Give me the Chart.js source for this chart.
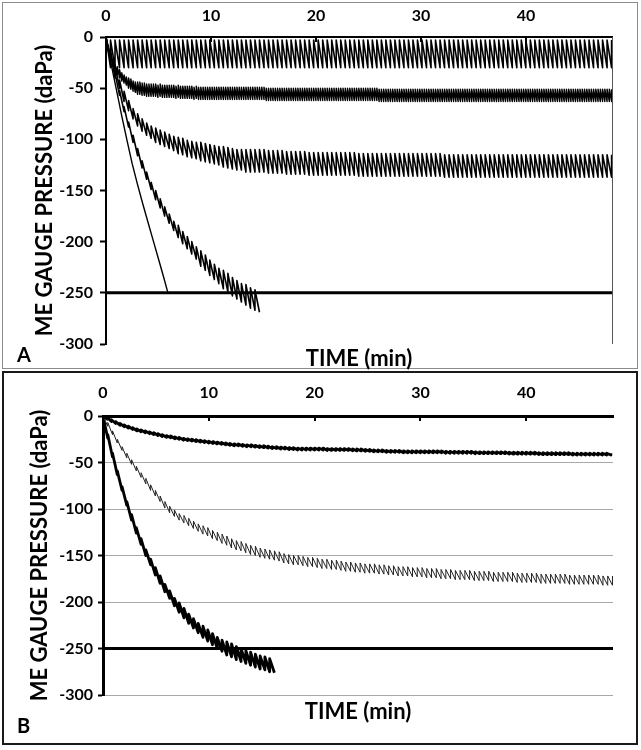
<!DOCTYPE html>
<html>
<head>
<meta charset="utf-8">
<title>ME gauge pressure</title>
<script src="https://cdn.jsdelivr.net/npm/chart.js@4.4.1/dist/chart.umd.min.js"></script>
<style>
  body { margin: 0; background: #fff; font-family: Lato, sans-serif; }
  .panel { position: absolute; box-sizing: border-box; }
  #boxA { left: 2px; top: 2px; width: 636px; height: 367px; border: 1px solid #8c8c8c; }
  #boxB { left: 2px; top: 371px; width: 636px; height: 374px; border: 2px solid #1a1a1a; }
  canvas { position: absolute; left: 0; }
  #chartA { top: 0; }
  #chartB { top: 372px; }
  .tag { position: absolute; left: 17px; font: bold 20px Lato; line-height: 1; }
</style>
</head>
<body>
<div class="panel" id="boxA"></div>
<div class="panel" id="boxB"></div>
<canvas id="chartA" width="641" height="372"></canvas>
<canvas id="chartB" width="641" height="376"></canvas>
<div class="tag" style="top:344px">A</div>
<div class="tag" style="top:715px">B</div>
<script>
// axes: time (min) on top, pressure (daPa) on the left
var xTicks = [0, 10, 20, 30, 40];
var xTickLabels = ['0', '10', '20', '30', '40'];
var yTicks = [-300, -250, -200, -150, -100, -50, 0];
var yTickLabels = ['-300', '-250', '-200', '-150', '-100', '-50', '0'];
var timeEnd = 48.2;
var limitLevel = -250;

// interval between tubal openings (min), one value per trace
var stepA = 0.43;
var stepAMid = 0.215;
var stepB1 = 0.4;
var stepB2 = 0.45;
var stepB3 = 0.45;

// A, top trace: pressure just before / just after each opening
var aTopLow = [
  -30,-30,-30,-30,-30,-30,-30,-30,-30,-30,-30,-30,-30,-30,
  -30,-30,-30,-30,-30,-30,-30,-30,-30,-30,-30,-30,-30,-30,
  -30,-30,-30,-30,-30,-30,-30,-30,-30,-30,-30,-30,-30,-30,
  -30,-30,-30,-30,-30,-30,-30,-30,-30,-30,-30,-30,-30,-30,
  -30,-30,-30,-30,-30,-30,-30,-30,-30,-30,-30,-30,-30,-30,
  -30,-30,-30,-30,-30,-30,-30,-30,-30,-30,-30,-30,-30,-30,
  -30,-30,-30,-30,-30,-30,-30,-30,-30,-30,-30,-30,-30,-30,
  -30,-30,-30,-30,-30,-30,-30,-30,-30,-30,-30,-30,-30,-30
];
var aTopHigh = [
  -3,-3,-3,-3,-3,-3,-3,-3,-3,-3,-3,-3,-3,-3,
  -3,-3,-3,-3,-3,-3,-3,-3,-3,-3,-3,-3,-3,-3,
  -3,-3,-3,-3,-3,-3,-3,-3,-3,-3,-3,-3,-3,-3,
  -3,-3,-3,-3,-3,-3,-3,-3,-3,-3,-3,-3,-3,-3,
  -3,-3,-3,-3,-3,-3,-3,-3,-3,-3,-3,-3,-3,-3,
  -3,-3,-3,-3,-3,-3,-3,-3,-3,-3,-3,-3,-3,-3,
  -3,-3,-3,-3,-3,-3,-3,-3,-3,-3,-3,-3,-3,-3,
  -3,-3,-3,-3,-3,-3,-3,-3,-3,-3,-3,-3,-3,-3
];

// A, dense band near -57
var aMidLow = [
  -14,-22,-28,-33,-37,-40,-43,-45,-47,-50,-51,-53,-54,-56,-56,-57,-57,-58,-58,
  -58,-58,-58,-59,-58,-59,-59,-59,-59,
  -59,-59,-60,-59,-60,-60,-60,-60,-60,-60,-61,-60,-61,-61,-61,-61,-61,-61,
  -61,-61,-61,-61,-61,-61,-61,-61,-61,-61,-61,-61,
  -61,-61,-61,-61,-61,-61,-61,-61,-61,-61,-61,-61,
  -62,-62,-62,-62,-62,-62,-62,-62,-62,-62,
  -62,-62,-62,-62,-62,-62,-62,-62,-62,-62,
  -62,-62,-62,-62,-62,-62,-62,-62,-62,-62,
  -62,-62,-62,-62,-62,-62,-62,-62,-62,-62,
  -62,-62,-62,-62,-62,-62,-62,-62,-62,-62,
  -63,-63,-63,-63,-63,-63,-63,-63,-63,-63,-63,-63,-63,
  -63,-63,-63,-63,-63,-63,-63,-63,-63,-63,-63,-63,-63,
  -63,-63,-63,-63,-63,-63,-63,-63,-63,-63,-63,-63,-63,
  -63,-63,-63,-63,-63,-63,-63,-63,-63,-63,-63,-63,-63,
  -63,-63,-63,-63,-63,-63,-63,-63,-63,-63,-63,-63,-63,
  -63,-63,-63,-63,-63,-63,-63,-63,-63,-63,-63,-63,-63,
  -63,-63,-63,-63,-63,-63,-63,-63,-63,-63,-63,-63,-63,
  -63,-63,-63,-63,-63,-63,-63,-63,-63,-63,-63,-63,-63
];
var aMidHigh = [
  -8,-16,-22,-27,-29,-32,-35,-37,-39,-40,-41,-43,-44,-44,-44,-45,-45,-46,-46,
  -46,-46,-46,-47,-46,-47,-47,-47,-47,
  -47,-47,-48,-47,-48,-48,-48,-48,-48,-48,-49,-48,-49,-49,-49,-49,-49,-49,
  -49,-49,-49,-49,-49,-49,-49,-49,-49,-49,-49,-49,
  -49,-49,-49,-49,-49,-49,-49,-49,-49,-49,-49,-49,
  -50,-50,-50,-50,-50,-50,-50,-50,-50,-50,
  -50,-50,-50,-50,-50,-50,-50,-50,-50,-50,
  -50,-50,-50,-50,-50,-50,-50,-50,-50,-50,
  -50,-50,-50,-50,-50,-50,-50,-50,-50,-50,
  -50,-50,-50,-50,-50,-50,-50,-50,-50,-50,
  -51,-51,-51,-51,-51,-51,-51,-51,-51,-51,-51,-51,-51,
  -51,-51,-51,-51,-51,-51,-51,-51,-51,-51,-51,-51,-51,
  -51,-51,-51,-51,-51,-51,-51,-51,-51,-51,-51,-51,-51,
  -51,-51,-51,-51,-51,-51,-51,-51,-51,-51,-51,-51,-51,
  -51,-51,-51,-51,-51,-51,-51,-51,-51,-51,-51,-51,-51,
  -51,-51,-51,-51,-51,-51,-51,-51,-51,-51,-51,-51,-51,
  -51,-51,-51,-51,-51,-51,-51,-51,-51,-51,-51,-51,-51,
  -51,-51,-51,-51,-51,-51,-51,-51,-51,-51,-51,-51,-51
];

// A, band near -126
var aLowLow = [
  -21,-36,-50,-63,-72,-80,-87,-92,-96,-99,-103,-105,-107,-109,-111,
  -114,-115,-117,-118,-119,-121,-122,-123,-124,-125,-127,-128,-129,-130,-130,
  -132,-132,-132,-132,-132,-133,-133,-133,-133,
  -134,-134,-134,-134,-134,-135,-135,-135,-135,-135,-135,-135,-135,-135,-135,-135,
  -136,-136,-136,-136,-136,-136,-136,-136,-136,-136,
  -136,-136,-136,-136,-136,-136,-136,-136,-136,
  -137,-137,-137,-137,-137,-137,-137,-137,-137,-137,-137,-137,-137,
  -137,-137,-137,-137,-137,-137,-137,-137,-137,-137,-137,-137,-137,
  -137,-137,-137,-137,-137,-137,-137,-137,-137,-137,-137,-137
];
var aLowHigh = [
  -13,-28,-42,-53,-62,-70,-75,-80,-84,-87,-89,-91,-93,-95,-97,
  -98,-99,-101,-102,-103,-103,-104,-105,-106,-107,-107,-108,-109,-110,-110,
  -110,-110,-110,-110,-110,-111,-111,-111,-111,
  -112,-112,-112,-112,-112,-113,-113,-113,-113,-113,-113,-113,-113,-113,-113,-113,
  -114,-114,-114,-114,-114,-114,-114,-114,-114,-114,
  -114,-114,-114,-114,-114,-114,-114,-114,-114,
  -115,-115,-115,-115,-115,-115,-115,-115,-115,-115,-115,-115,-115,
  -115,-115,-115,-115,-115,-115,-115,-115,-115,-115,-115,-115,-115,
  -115,-115,-115,-115,-115,-115,-115,-115,-115,-115,-115,-115
];

// A, sawtooth that runs past -250
var aDeepLow = [
  -22,-40,-57,-73,-88,-103,-116,-128,-139,-149,-159,-167,-175,-182,-189,-196,-202,
  -207,-212,-217,-224,-228,-233,-237,-241,-246,-249,-253,-256,-259,-262,-265,-267,-269
];
var aDeepHigh = [
  -17,-35,-52,-68,-83,-96,-109,-121,-132,-142,-150,-158,-166,-173,-180,-184,-190,
  -195,-200,-205,-209,-213,-218,-222,-226,-228,-231,-235,-238,-241,-242,-245,-247
];

// A, smooth fast drop
var aFastT = [0, 0.5, 1, 1.5, 2, 2.5, 3, 3.5, 4, 4.5, 5, 5.5, 5.9];
var aFastV = [0, -27, -52, -77, -101, -124, -144, -163, -181, -199, -217, -235, -250];

// B, shallow trace
var bTopLow = [
  -3.5,-6,-8,-10,-11.5,-13,-14.5,-16,-17,-18,-19,-20,-21,-22,-23,
  -23.5,-24.5,-25,-26,-26.5,-27,-27.5,-28,-28.5,-29,-29.5,-30,-30.5,-31,-31.5,
  -32,-32,-32.5,-33,-33,-33.5,-34,-34,-34.5,-35,-35,-35.5,-35.5,-36,-36,
  -36.5,-36.5,-36.5,-36.5,-36.5,-36.5,-36.5,-37,-37,-37,-37,-37,-37,
  -37.5,-37.5,-37.5,-38,-38,-38.5,-38.5,-38.5,-39,-39,-39,-39,
  -39.5,-39.5,-39.5,-39.5,-39.5,-39.5,-39.5,-39.5,-39.5,-39.5,
  -40,-40,-40,-40,-40,-40,-40,-40.5,-40.5,-40.5,-40.5,-40.5,-40.5,-40.5,-40.5,
  -41,-41,-41,-41,-41,-41,-41,-41.5,-41.5,-41.5,-41.5,-41.5,-41.5,-41.5,-41.5,
  -42,-42,-42,-42,-42,-42,-42,-42,-42,-42
];
var bTopHigh = [
  -1.5,-4,-6,-8,-9.5,-11,-12.5,-14,-15,-16,-17,-18,-19,-20,-21,
  -21.5,-22.5,-23,-24,-24.5,-25,-25.5,-26,-26.5,-27,-27.5,-28,-28.5,-29,-29.5,
  -30,-30,-30.5,-31,-31,-31.5,-32,-32,-32.5,-33,-33,-33.5,-33.5,-34,-34,
  -34.5,-34.5,-34.5,-34.5,-34.5,-34.5,-34.5,-35,-35,-35,-35,-35,-35,
  -35.5,-35.5,-35.5,-36,-36,-36.5,-36.5,-36.5,-37,-37,-37,-37,
  -37.5,-37.5,-37.5,-37.5,-37.5,-37.5,-37.5,-37.5,-37.5,-37.5,
  -38,-38,-38,-38,-38,-38,-38,-38.5,-38.5,-38.5,-38.5,-38.5,-38.5,-38.5,-38.5,
  -39,-39,-39,-39,-39,-39,-39,-39.5,-39.5,-39.5,-39.5,-39.5,-39.5,-39.5,-39.5,
  -40,-40,-40,-40,-40,-40,-40,-40,-40,-40
];

// B, thin trace levelling near -176
var bMidLow = [
  -11,-20,-29,-37,-45,-52,-59,-66,-73,-80,-86,-92,
  -99,-104,-108,-112,-115,-118,-121,-124,-127,-129,-132,-134,
  -137,-139,-142,-144,-145,-147,-149,-150,-152,-153,-154,-155,
  -156,-158,-159,-160,-160,-161,-162,-162,-163,-164,-164,-165,
  -165,-166,-167,-167,-168,-168,-169,-169,-169,-170,-170,-171,
  -171,-172,-172,-172,-173,-173,-173,-174,-174,-174,-175,-175,-175,
  -176,-176,-176,-176,-177,-177,-177,-177,-178,-178,-178,-178,-178,
  -179,-179,-179,-179,-179,-180,-180,-180,-180,-180,-180,
  -181,-181,-181,-181,-181,-181,-181,-182,-182,-182
];
var bMidHigh = [
  -7,-16,-25,-33,-40,-47,-54,-61,-67,-74,-80,-86,
  -92,-97,-101,-105,-107,-110,-113,-116,-118,-120,-123,-125,
  -127,-129,-132,-134,-135,-137,-139,-140,-142,-143,-144,-145,
  -146,-148,-149,-150,-150,-151,-152,-152,-153,-154,-154,-155,
  -155,-156,-157,-157,-158,-158,-159,-159,-159,-160,-160,-161,
  -161,-162,-162,-162,-163,-163,-163,-164,-164,-164,-165,-165,-165,
  -166,-166,-166,-166,-167,-167,-167,-167,-168,-168,-168,-168,-168,
  -169,-169,-169,-169,-169,-170,-170,-170,-170,-170,-170,
  -171,-171,-171,-171,-171,-171,-171,-172,-172,-172
];

// B, thick trace that runs past -250
var bDeepLow = [
  -24,-44,-63,-80,-96,-112,-126,-138,-150,-160,-171,-180,-189,-196,-204,-211,-217,-223,
  -228,-233,-238,-242,-246,-250,-253,-257,-259,-262,-264,-266,-268,-270,-272,-273,-275,-276
];
var bDeepHigh = [
  -20,-40,-59,-76,-92,-106,-120,-132,-144,-154,-163,-172,-181,-188,-196,-201,-207,-213,
  -218,-223,-226,-230,-234,-238,-241,-243,-245,-248,-250,-252,-254,-256,-258,-259,-261
];

// each opening: drop to the low value, then jump up to the high value
function sawPoints(low, high, step) {
  var pts = [{ x: 0, y: 0 }];
  low.forEach(function (v, i) {
    var t = (i + 1) * step;
    pts.push({ x: t, y: v });
    if (i < high.length) pts.push({ x: t, y: high[i] });
  });
  return pts;
}

function linePoints(t, v) {
  return t.map(function (x, i) { return { x: x, y: v[i] }; });
}

function series(data, width, color) {
  return {
    data: data,
    xAxisID: 'x',
    yAxisID: 'y',
    borderColor: color || '#000',
    borderWidth: width,
    pointRadius: 0,
    tension: 0,
    fill: false,
    borderJoinStyle: 'round'
  };
}

var limitPoints = linePoints([0, timeEnd], [limitLevel, limitLevel]);

// small tick marks pointing down from the time axis, plus optional right frame
var innerTicks = {
  id: 'innerTicks',
  afterDatasetsDraw: function (chart, args, opts) {
    var ctx = chart.ctx;
    var area = chart.chartArea;
    var x = chart.scales.x;
    ctx.save();
    ctx.strokeStyle = '#000';
    ctx.lineWidth = 2;
    xTicks.forEach(function (v) {
      if (v === 0) return;
      var px = Math.round(x.getPixelForValue(v));
      ctx.beginPath();
      ctx.moveTo(px, area.top);
      ctx.lineTo(px, area.top + opts.length);
      ctx.stroke();
    });
    if (opts.frame) {
      ctx.strokeStyle = opts.frame;
      ctx.lineWidth = 1;
      ctx.beginPath();
      ctx.moveTo(Math.round(area.right) + 0.5, area.top);
      ctx.lineTo(Math.round(area.right) + 0.5, area.bottom);
      ctx.stroke();
    }
    ctx.restore();
  }
};

Chart.defaults.font.family = 'Lato';
Chart.defaults.font.size = 16;
Chart.defaults.font.weight = 'bold';
Chart.defaults.color = '#000';

function panelOptions(g) {
  return {
    responsive: false,
    animation: false,
    devicePixelRatio: 1,
    layout: { padding: { left: 0, right: g.right, top: 0, bottom: 0 } },
    plugins: {
      legend: { display: false },
      tooltip: { enabled: false },
      innerTicks: { length: 5, frame: g.frame }
    },
    scales: {
      x: {
        type: 'linear', position: 'top', min: 0, max: timeEnd,
        afterBuildTicks: function (s) { s.ticks = xTicks.map(function (v) { return { value: v }; }); },
        afterFit: function (s) { s.height = g.top; },
        ticks: { padding: g.xPad, callback: function (v, i) { return xTickLabels[i]; } },
        grid: { drawOnChartArea: false, drawTicks: false },
        border: { color: '#000', width: g.axisW }
      },
      xb: {
        type: 'linear', position: 'bottom', min: 0, max: timeEnd,
        afterFit: function (s) { s.height = g.bottom; },
        ticks: { display: false },
        grid: { display: false, drawTicks: false },
        border: { display: false },
        title: {
          display: true, text: 'TIME (min)',
          font: { size: 22, weight: 'bold' },
          padding: { top: 0, bottom: g.xTitlePad }
        }
      },
      y: {
        type: 'linear', min: -300, max: 0,
        afterBuildTicks: function (s) { s.ticks = yTicks.map(function (v) { return { value: v }; }); },
        afterFit: function (s) { s.width = g.left; },
        ticks: { padding: g.yPad, callback: function (v, i) { return yTickLabels[i]; } },
        grid: {
          drawOnChartArea: g.gridlines, color: '#a8a8a8', lineWidth: 1,
          tickLength: g.tick, tickColor: '#000', tickWidth: 2
        },
        border: { color: '#000', width: g.axisW },
        title: {
          display: true, text: 'ME GAUGE PRESSURE (daPa)',
          font: { size: 22, weight: 'bold' },
          padding: { top: g.yTitlePad, bottom: 0 }
        }
      }
    }
  };
}

new Chart(document.getElementById('chartA'), {
  type: 'line',
  data: {
    datasets: [
      series(sawPoints(aTopLow, aTopHigh, stepA), 1.6),
      series(sawPoints(aMidLow, aMidHigh, stepAMid), 1.4),
      series(sawPoints(aLowLow, aLowHigh, stepA), 1.6),
      series(sawPoints(aDeepLow, aDeepHigh, stepA), 1.6),
      series(linePoints(aFastT, aFastV), 1.4),
      series(limitPoints, 3)
    ]
  },
  options: panelOptions({
    left: 106, top: 37, bottom: 28, right: 29,
    xPad: 12, yPad: 7, tick: 6, axisW: 2,
    xTitlePad: 0, yTitlePad: 32, gridlines: false, frame: '#555'
  }),
  plugins: [innerTicks]
});

new Chart(document.getElementById('chartB'), {
  type: 'line',
  data: {
    datasets: [
      series(sawPoints(bTopLow, bTopHigh, stepB1), 2.8),
      series(sawPoints(bMidLow, bMidHigh, stepB2), 1, '#222'),
      series(sawPoints(bDeepLow, bDeepHigh, stepB3), 2.8),
      series(limitPoints, 3)
    ]
  },
  options: panelOptions({
    left: 103, top: 44, bottom: 53, right: 28,
    xPad: 14, yPad: 5, tick: 5, axisW: 3,
    xTitlePad: 23, yTitlePad: 27, gridlines: true, frame: null
  }),
  plugins: [innerTicks]
});
</script>
</body>
</html>
